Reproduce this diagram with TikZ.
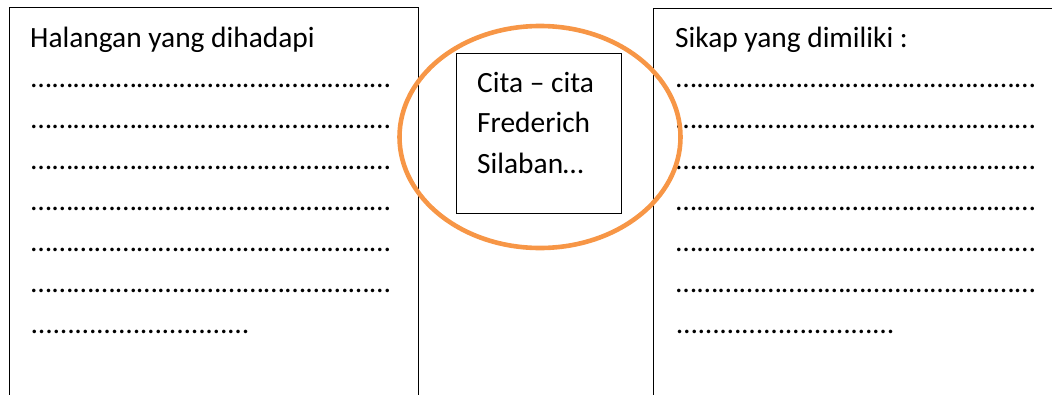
\documentclass[tikz,border=0pt]{standalone}
\usepackage{fontspec}
\setmainfont{Carlito}
\usepackage{tikz}
\usetikzlibrary{shapes.geometric, positioning}
\definecolor{ringorange}{RGB}{247, 150, 70}
% a row of ellipsis dots of a given width
\newcommand{\dotrow}[1]{\hbox to #1{\xleaders\hbox{…}\hfill}}

\begin{document}
\begin{tikzpicture}[x=1pt, y=-1pt, font=\fontsize{29.4}{40}\selectfont,
  panel/.style={draw, line width=1pt, anchor=north west, inner sep=0pt},
  txt/.style={anchor=base west, inner sep=0pt}]
  \useasboundingbox (0,0) rectangle (1052,394);
  \clip (0,0) rectangle (1052,394);

  % ===== LEFT PANEL =====
  \node[panel, minimum width=409pt, minimum height=430pt] (halangan) at (9,7) {};
  \node[txt] (halT) at (30,47) {Halangan yang dihadapi};
  \foreach \y [count=\i] in {87,128,169,210,251,292}
    \node[txt] (halL\i) at (30,\y) {\dotrow{361pt}};
  \node[txt] (halL7) at (30,333) {\dotrow{220pt}};

  % ===== RIGHT PANEL =====
  \node[panel, minimum width=500pt, minimum height=430pt] (sikap) at (653,8) {};
  \node[txt] (sikT) at (675,47) {Sikap yang dimiliki :};
  \foreach \y [count=\i] in {87,128,169,210,251,292}
    \node[txt] (sikL\i) at (675,\y) {\dotrow{361pt}};
  \node[txt] (sikL7) at (675,333) {\dotrow{220pt}};

  % ===== CENTRE =====
  \node[panel, fill=white, minimum width=165pt, minimum height=160pt] (cita) at (456,53) {};
  \node[txt] (cita1) at (477,92) {Cita – cita};
  \node[txt] (cita2) at (477,132) {Frederich};
  \node[txt] (cita3) at (477,173) {Silaban…};

  % orange ring
  \node[ellipse, draw=ringorange, line width=4.6pt, inner sep=0pt,
        minimum width=281pt, minimum height=222pt] (ring) at (540,137) {};
\end{tikzpicture}
\end{document}
